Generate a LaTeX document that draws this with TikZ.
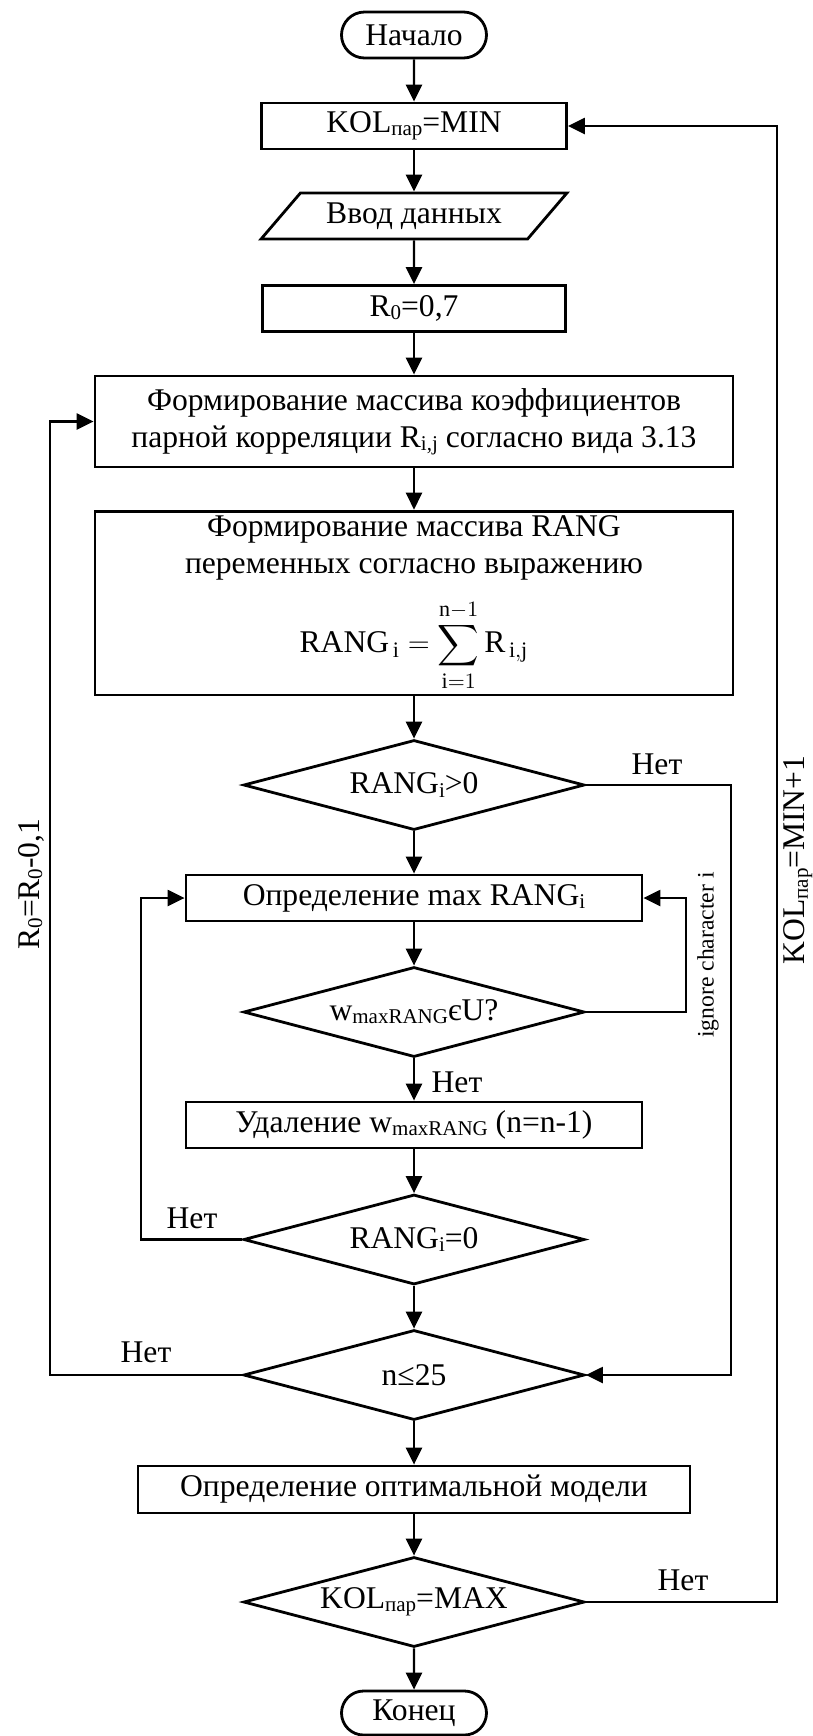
\documentclass[tikz,border=0pt]{standalone}
\usepackage{amsmath}
\usepackage{fontspec}
\setmainfont{Liberation Serif}
\usetikzlibrary{shapes.geometric}
\usetikzlibrary{shapes.misc}
\usetikzlibrary{arrows.meta}
\tikzstyle{block}=[draw, line width=1.4pt, inner sep=2pt, align=center]
\tikzstyle{pblock}=[block, rectangle, minimum height=23pt]
\tikzstyle{tblock}=[block, rounded rectangle, minimum width=76.5pt, minimum height=23pt]
\tikzstyle{iblock}=[block, trapezium, trapezium left angle=47.6, trapezium right angle=132.4, trapezium stretches=true, minimum width=153pt, minimum height=23pt]
\tikzstyle{dblock}=[block, diamond, shape aspect=3.8, inner sep=0pt, minimum width=170.5pt, minimum height=45pt]
\tikzstyle{arr}=[line width=1.2pt, -{Triangle[length=8.5pt, width=8pt]}]
\tikzstyle{lbl}=[inner sep=0pt]
\newcommand{\lowtext}[1]{\raisebox{-0.1em}{\fontsize{10.5}{10.5}\selectfont #1}}

\begin{document}
\begin{tikzpicture}[x=0.5pt, y=-0.5pt, font=\fontsize{15.8}{18.5}\selectfont]
    \useasboundingbox (0,0) rectangle (813,1736);
    \node[tblock]                                           (start) at (414, 35)     {Начало};
    \node[pblock, minimum width=152.5pt]                    (kol)   at (414, 126)    {KOL\lowtext{пар}=MIN};
    \node[iblock]                                           (input) at (414, 216)    {Ввод данных};
    \node[pblock, minimum width=151.5pt]                    (rzero) at (414, 308.5)  {R\lowtext{0}=0,7};
    \node[pblock, minimum width=319pt, minimum height=45.5pt] (form1) at (414, 421.5) {Формирование массива коэффициентов\\парной корреляции R\lowtext{i,j} согласно вида 3.13};
    \node[pblock, minimum width=319pt, minimum height=90pt] (form2) at (414, 603)    {Формирование массива RANG\\переменных согласно выражению\\[9pt]$\displaystyle \mathrm{RANG}_{\,\mathrm{i}} = \sum_{\mathrm{i}=1}^{\mathrm{n}-1}\mathrm{R}_{\,\mathrm{i,j}}$};
    \node[dblock]                                           (d1)    at (414, 785)    {RANG\lowtext{i}>0};
    \node[pblock, minimum width=228pt]                      (maxr)  at (414, 898)    {Определение max RANG\lowtext{i}};
    \node[dblock]                                           (d2)    at (414, 1012)   {w\lowtext{maxRANG}єU?};
    \node[pblock, minimum width=228pt]                      (del)   at (414, 1125)   {Удаление w\lowtext{maxRANG} (n=n-1)};
    \node[dblock]                                           (d3)    at (414, 1239.5) {RANG\lowtext{i}=0};
    \node[dblock]                                           (d4)    at (414, 1375)   {n≤25};
    \node[pblock, minimum width=276pt, minimum height=23.5pt] (opt) at (414, 1489.5) {Определение оптимальной модели};
    \node[dblock]                                           (d5)    at (414, 1602)   {KOL\lowtext{пар}=MAX};
    \node[tblock, minimum height=22pt]                      (stop)  at (414, 1713)   {Конец};
    \node[lbl] (no1) at (657, 764)  {Нет};
    \node[lbl] (no2) at (457, 1082) {Нет};
    \node[lbl] (no3) at (192, 1218) {Нет};
    \node[lbl] (no4) at (146, 1352) {Нет};
    \node[lbl] (no5) at (683, 1580) {Нет};
    \node[lbl, rotate=90] (rlbl)   at (31, 884)  {R\lowtext{0}=R\lowtext{0}-0,1};
    \node[lbl, rotate=90] (kollbl) at (798, 860) {KOL\lowtext{пар}=MIN+1};
    \node[lbl, rotate=90, font=\fontsize{11.8}{12}\selectfont] (ignlbl) at (708, 955) {ignore character i};
    \coordinate (xrback)   at (50, 0);
    \coordinate (xmaxback) at (141, 0);
    \coordinate (xign)     at (686, 0);
    \coordinate (xno)      at (731, 0);
    \coordinate (xkol)     at (777, 0);
    \draw[arr] (start) -- (kol);
    \draw[arr] (kol) -- (input);
    \draw[arr] (input) -- (rzero);
    \draw[arr] (rzero) -- (form1);
    \draw[arr] (form1) -- (form2);
    \draw[arr] (form2) -- (d1);
    \draw[arr] (d1) -- (maxr);
    \draw[arr] (maxr) -- (d2);
    \draw[arr] (d2) -- (del);
    \draw[arr] (del) -- (d3);
    \draw[arr] (d3) -- (d4);
    \draw[arr] (d4) -- (opt);
    \draw[arr] (opt) -- (d5);
    \draw[arr] (d5) -- (stop);
    \draw[arr] (d4.west) -| (xrback |- form1.west) -- (form1.west);
    \draw[arr] (d3.west) -| (xmaxback |- maxr.west) -- (maxr.west);
    \draw[arr] (d2.east) -| (xign |- maxr.east) -- (maxr.east);
    \draw[arr] (d1.east) -| (xno |- d4.east) -- (d4.east);
    \draw[arr] (d5.east) -| (xkol |- kol.east) -- (kol.east);
\end{tikzpicture}
\end{document}
